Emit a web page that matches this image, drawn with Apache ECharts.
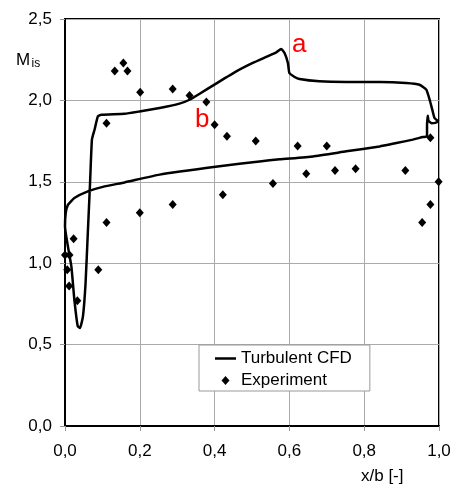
<!DOCTYPE html>
<html lang="de">

<head>
  <meta charset="UTF-8">
  <title>Mis</title>
  <script src="https://cdn.jsdelivr.net/npm/echarts@6/dist/echarts.min.js"></script>
</head>

<body style="margin:0;background:#fff">
  <div id="main" style="width: 459px;height:484px;"></div>
</body>
<script>
  // Achsenbeschriftung
  var xTicks = ['0,0', '0,2', '0,4', '0,6', '0,8', '1,0'];
  var yTicks = ['0,0', '0,5', '1,0', '1,5', '2,0', '2,5'];

  // Experiment (Messpunkte)
  var expX = [0.000, 0.012, 0.006, 0.011, 0.023, 0.033, 0.089, 0.111, 0.111, 0.133, 0.156,
    0.167, 0.201, 0.200, 0.288, 0.288, 0.333, 0.378, 0.400, 0.433, 0.422, 0.510, 0.556,
    0.622, 0.645, 0.700, 0.722, 0.777, 0.910, 0.977, 0.977, 0.955, 0.999];
  var expY = [1.05, 1.05, 0.96, 0.86, 1.15, 0.77, 0.96, 1.25, 1.86, 2.18, 2.23,
    2.18, 2.05, 1.31, 2.07, 1.36, 2.03, 1.99, 1.85, 1.78, 1.42, 1.75, 1.49,
    1.72, 1.55, 1.72, 1.57, 1.58, 1.57, 1.77, 1.36, 1.25, 1.50];

  // Turbulent CFD, Druckseite (Hinterkante -> Vorderkante)
  var cfdPressure = [
    [0.999, 1.871], [0.990, 1.862], [0.980, 1.860], [0.972, 1.875], [0.970, 1.905],
    [0.968, 1.850], [0.968, 1.780], [0.957, 1.775], [0.930, 1.759], [0.886, 1.738],
    [0.841, 1.717], [0.752, 1.687], [0.663, 1.656], [0.574, 1.638], [0.520, 1.625],
    [0.413, 1.595], [0.253, 1.544], [0.159, 1.496], [0.106, 1.472], [0.061, 1.441],
    [0.025, 1.400], [0.008, 1.359], [0.002, 1.310], [0.000, 1.227]
  ];
  // Saugseite (Vorderkante -> Hinterkante)
  var cfdSuction = [
    [0.017, 0.980], [0.025, 0.776], [0.034, 0.612], [0.040, 0.602], [0.048, 0.673],
    [0.055, 0.878], [0.061, 1.186], [0.067, 1.493], [0.072, 1.759], [0.079, 1.820],
    [0.088, 1.902], [0.097, 1.912], [0.159, 1.918], [0.199, 1.932], [0.253, 1.953],
    [0.306, 1.980], [0.333, 2.004], [0.360, 2.041], [0.404, 2.103], [0.458, 2.178],
    [0.502, 2.230], [0.538, 2.267], [0.565, 2.295], [0.578, 2.316], [0.587, 2.291],
    [0.596, 2.230], [0.600, 2.168], [0.614, 2.144], [0.627, 2.131], [0.680, 2.117],
    [0.752, 2.113], [0.841, 2.113], [0.912, 2.107], [0.948, 2.096], [0.966, 2.066],
    [0.975, 2.004], [0.982, 1.943], [0.988, 1.892], [0.999, 1.871]
  ];

  var expData = expX.map(function (x, i) {
    return [x, expY[i]];
  });
  var cfdData = cfdPressure.concat(cfdSuction);

  var font = '"Liberation Sans", Arial, sans-serif';
  var diamond = 'path://M4,0L8,4.5L4,9L0,4.5Z';
  var dash = 'path://M0,0H21V2.5H0Z';

  var myChart = echarts.init(document.getElementById('main'));
  var option = {
    animation: false,
    grid: {
      left: 65,
      right: 20,
      top: 19,
      bottom: 58,
      show: true,
      borderColor: '#000',
      borderWidth: 2
    },
    legend: {
      left: 199,
      top: 345,
      orient: 'vertical',
      padding: [5, 18, 2, 16],
      itemGap: 5,
      itemWidth: 21,
      itemHeight: 9,
      backgroundColor: '#fff',
      borderColor: '#999',
      borderWidth: 1,
      selectedMode: false,
      textStyle: {
        fontFamily: font,
        fontSize: 17,
        color: '#000'
      },
      data: [{
        name: 'Turbulent CFD',
        icon: dash
      }, {
        name: 'Experiment',
        icon: diamond
      }]
    },
    xAxis: {
      type: 'value',
      min: 0,
      max: 1,
      interval: 0.2,
      axisLine: {
        onZero: false,
        lineStyle: { color: '#000', width: 2 }
      },
      axisTick: {
        show: true,
        length: 5,
        lineStyle: { color: '#999' }
      },
      axisLabel: {
        margin: 17,
        fontFamily: font,
        fontSize: 17,
        color: '#000',
        formatter: function (v) {
          return xTicks[Math.round(v / 0.2)];
        }
      },
      splitLine: {
        lineStyle: { color: '#aaa', width: 1 }
      }
    },
    yAxis: {
      type: 'value',
      min: 0,
      max: 2.5,
      interval: 0.5,
      axisLine: {
        show: true,
        lineStyle: { color: '#000', width: 2 }
      },
      axisTick: {
        show: true,
        length: 5,
        lineStyle: { color: '#999' }
      },
      axisLabel: {
        margin: 13,
        fontFamily: font,
        fontSize: 17,
        color: '#000',
        formatter: function (v) {
          return yTicks[Math.round(v / 0.5)];
        }
      },
      splitLine: {
        lineStyle: { color: '#aaa', width: 1 }
      }
    },
    graphic: [{
      type: 'text',
      style: { text: 'M', x: 16, y: 60, verticalAlign: 'middle', font: '17px ' + font, fill: '#000' }
    }, {
      type: 'text',
      style: { text: 'is', x: 31.5, y: 64, verticalAlign: 'middle', font: '12px ' + font, fill: '#000' }
    }, {
      type: 'text',
      style: { text: 'x/b [-]', x: 361, y: 476, verticalAlign: 'middle', font: '17px ' + font, fill: '#000' }
    }, {
      type: 'text',
      style: { text: 'a', x: 292, y: 45, verticalAlign: 'middle', font: '26px ' + font, fill: '#ff0000' }
    }, {
      type: 'text',
      style: { text: 'b', x: 195, y: 120, verticalAlign: 'middle', font: '26px ' + font, fill: '#ff0000' }
    }],
    series: [{
      name: 'Turbulent CFD',
      type: 'line',
      data: cfdData,
      symbol: 'none',
      smooth: 0.15,
      lineStyle: { color: '#000', width: 2.5 },
      itemStyle: { color: '#000' },
      z: 3
    }, {
      name: 'Experiment',
      type: 'scatter',
      data: expData,
      symbol: 'diamond',
      symbolSize: [8, 9],
      itemStyle: { color: '#000', opacity: 1 },
      z: 4
    }]
  };
  myChart.setOption(option);
</script>

</html>
